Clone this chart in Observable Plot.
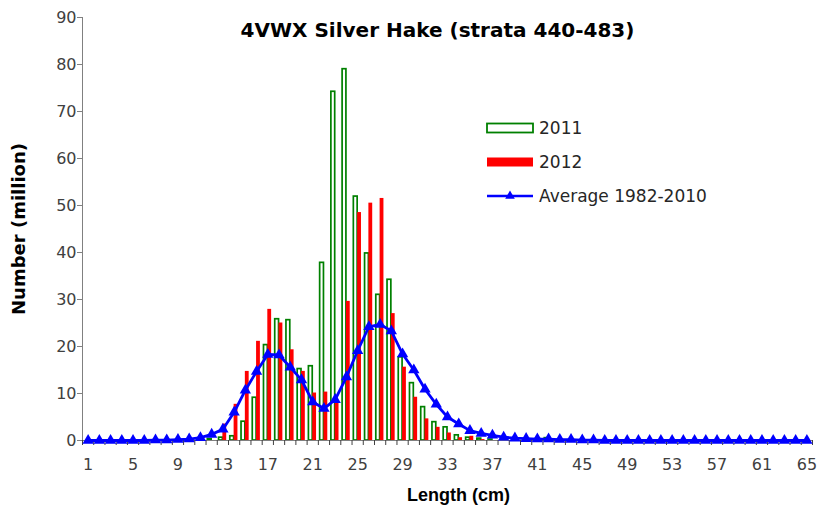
<!DOCTYPE html>
<html><head><meta charset="utf-8">
<script src="https://cdn.jsdelivr.net/npm/d3@7"></script>
<script src="https://cdn.jsdelivr.net/npm/@observablehq/plot@0.6"></script>
<style>
body{margin:0;background:#fff;}
#chart{position:relative;width:817px;height:512px;}
</style></head><body><div id="chart"></div>
<script>
// Length classes (cm)
const lengths = d3.range(1, 66);
// 2011 numbers (million), lengths 1..65
const y2011 = [0,0,0,0,0,0,0,0,0,0,0,0.3,0.6,0.9,4.0,9.1,20.3,25.8,25.6,15.2,15.8,37.8,74.2,79.0,51.9,39.8,31.0,34.2,17.7,12.2,7.1,3.9,2.8,1.1,0.6,0.4,0.2,0,0,0,0,0.5,0,0,0,0,0,0,0,0,0,0,0,0,0,0,0,0,0,0,0,0,0,0,0];
// 2012 numbers (million)
const y2012 = [0,0,0,0,0,0,0,0,0,0,0,0,3.5,7.7,14.7,21.1,27.9,25.0,19.3,14.7,10.1,10.3,8.0,29.6,48.5,50.5,51.5,27.0,15.6,9.2,4.6,2.8,1.6,0.6,0.9,0.2,0,0,0,0,0,0,0,0,0,0,0,0,0,0,0,0,0,0,0,0,0,0,0,0,0,0,0,0,0];
// Average 1982-2010
const avg = [0,0,0,0,0,0,0.1,0.1,0.2,0.3,0.6,1.3,2.4,6.0,10.7,14.7,18.3,18.2,15.6,12.9,8.2,6.8,8.7,13.5,19.1,24.2,24.7,23.3,18.4,15.0,10.9,7.7,5.0,3.5,2.1,1.5,1.1,0.7,0.5,0.4,0.3,0.3,0.2,0.2,0.1,0.1,0,0,0,0,0,0,0,0,0,0,0,0,0,0,0,0,0,0,0];
const yTicks = [0,10,20,30,40,50,60,70,80,90];
const xTickLabels = [1,5,9,13,17,21,25,29,33,37,41,45,49,53,57,61,65];
const seriesNames = ["2011", "2012", "Average 1982-2010"];
const title = "4VWX Silver Hake (strata 440-483)";

const d11 = lengths.map((len, i) => ({len, v: y2011[i]})).filter(d => d.v > 0);
const d12 = lengths.map((len, i) => ({len, v: y2012[i]})).filter(d => d.v > 0);
const dAvg = lengths.map((len, i) => ({len, v: avg[i]}));
const boundaries = lengths.map(d => d - 0.5).concat([lengths[lengths.length - 1] + 0.5]);
const half = 0.34; // bar width in category units

const GREEN = "#008000", RED = "#ff0000", BLUE = "#0000ff", AXIS = "#808080";
const FONT = "DejaVu Sans";

const plot = Plot.plot({
  width: 817, height: 512,
  marginLeft: 82, marginRight: 5, marginTop: 17, marginBottom: 72,
  style: {fontFamily: FONT, fontSize: "16px", background: "white", color: "#404040"},
  x: {domain: [0.5, 65.5]},
  y: {domain: [0, 90]},
  marks: [
    Plot.rect(d11, {x1: d => d.len - half, x2: d => d.len, y1: 0, y2: "v", fill: "white", stroke: GREEN, strokeWidth: 1.7}),
    Plot.rect(d12, {x1: d => d.len, x2: d => d.len + half, y1: 0, y2: "v", fill: RED}),
    Plot.ruleX([0.5], {stroke: AXIS, strokeWidth: 1}),
    Plot.ruleY([0], {stroke: AXIS, strokeWidth: 1}),
    Plot.axisY({ticks: yTicks, tickSize: 5, tickPadding: 1, stroke: AXIS, fill: "#404040", label: null}),
    Plot.axisX({ticks: boundaries, tickSize: 5, tickFormat: () => "", stroke: "#404040", label: null}),
    Plot.axisX({ticks: xTickLabels, tickSize: 0, tickPadding: 18, fill: "#404040", label: null}),
    Plot.line(dAvg, {x: "len", y: "v", stroke: BLUE, strokeWidth: 2.8}),
    Plot.dot(dAvg, {x: "len", y: "v", symbol: "triangle", r: 4.2, fill: BLUE, stroke: "none"}),
    Plot.text([title], {frameAnchor: "top", lineAnchor: "middle", dy: 13, dx: -10, fontWeight: "bold", fontSize: 20, fill: "black"}),
    Plot.text(["Number (million)"], {frameAnchor: "left", textAnchor: "middle", lineAnchor: "middle", dx: -63, rotate: -90, fontWeight: "bold", fontSize: 18, fill: "black"}),
    Plot.text(["Length (cm)"], {frameAnchor: "bottom", lineAnchor: "middle", dy: 55, dx: 11, fontFamily: "Liberation Sans", fontWeight: "bold", fontSize: 18, fill: "black"})
  ]
});
document.getElementById("chart").appendChild(plot);

// Legend
const svg = d3.select(plot);
const lg = svg.append("g").attr("font-family", FONT).attr("font-size", 17).attr("fill", "#262626").attr("text-anchor", "start");
const rows = [128, 162, 196];
lg.append("rect").attr("x", 487).attr("y", rows[0] - 4.5).attr("width", 46).attr("height", 9)
  .attr("fill", "white").attr("stroke", GREEN).attr("stroke-width", 1.8);
lg.append("rect").attr("x", 487).attr("y", rows[1] - 4.5).attr("width", 46).attr("height", 9).attr("fill", RED);
lg.append("line").attr("x1", 487).attr("x2", 533).attr("y1", rows[2]).attr("y2", rows[2]).attr("stroke", BLUE).attr("stroke-width", 2.5);
lg.append("path").attr("d", d3.symbol(d3.symbolTriangle, 40)()).attr("transform", `translate(510,${rows[2]})`).attr("fill", BLUE);
seriesNames.forEach((s, i) => {
  lg.append("text").attr("x", 539).attr("y", rows[i]).attr("dy", "0.36em").text(s);
});
</script></body></html>
